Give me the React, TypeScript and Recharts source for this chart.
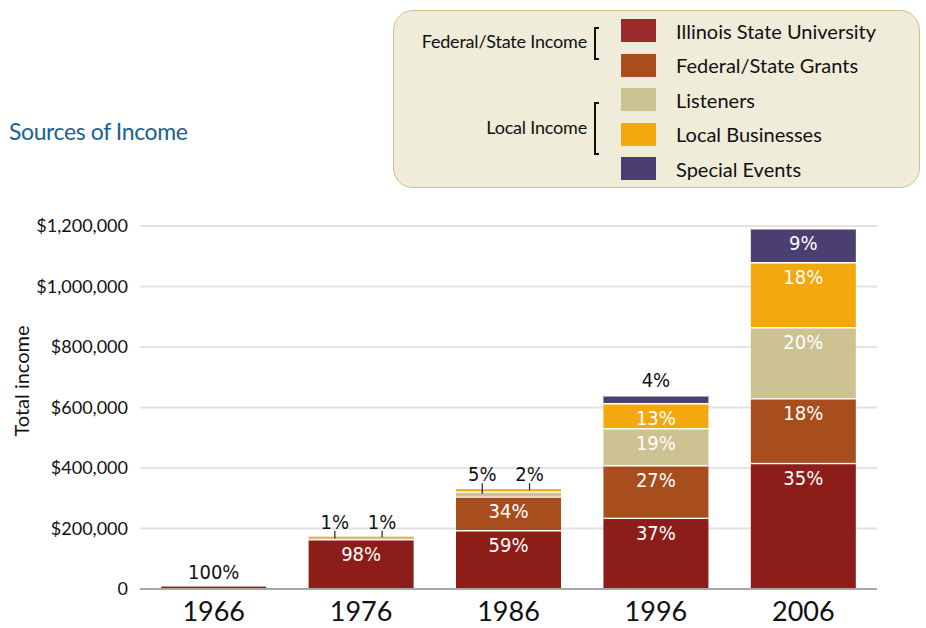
import React from 'react';
import { BarChart, Bar, XAxis, YAxis, CartesianGrid, LabelList } from 'recharts';

const years = ['1966', '1976', '1986', '1996', '2006'];
const isuValues = [8000, 165000, 195000, 236000, 417000];
const grantValues = [0, 0, 112000, 174000, 214000];
const listenerValues = [0, 4000, 16000, 122000, 235000];
const businessValues = [0, 4000, 7000, 83000, 215000];
const eventValues = [0, 0, 0, 26000, 112000];

const isuPct = ['100%', '98%', '59%', '37%', '35%'];
const grantPct = ['', '', '34%', '27%', '18%'];
const listenerPct = ['', '1%', '5%', '19%', '20%'];
const businessPct = ['', '1%', '2%', '13%', '18%'];
const eventPct = ['', '', '', '4%', '9%'];

const yTicks = [0, 200000, 400000, 600000, 800000, 1000000, 1200000];

const groups = ['Federal/State Income', 'Local Income'];

const series = [
  { key: 'isu', name: 'Illinois State University', color: '#8C1D18', legendColor: '#9C2B2B', values: isuValues, pct: isuPct, group: 0, outside: 'center' },
  { key: 'grants', name: 'Federal/State Grants', color: '#A84D1D', legendColor: '#A84D1D', values: grantValues, pct: grantPct, group: 0, outside: 'center' },
  { key: 'listeners', name: 'Listeners', color: '#CDC292', legendColor: '#CDC292', values: listenerValues, pct: listenerPct, group: 1, outside: 'left' },
  { key: 'business', name: 'Local Businesses', color: '#F4A80F', legendColor: '#F4A80F', values: businessValues, pct: businessPct, group: 1, outside: 'right' },
  { key: 'events', name: 'Special Events', color: '#4A3F70', legendColor: '#4A3F70', values: eventValues, pct: eventPct, group: 1, outside: 'center' },
];

const data = years.map((y, i) => {
  const row: any = { year: y };
  series.forEach((s) => { row[s.key] = s.values[i]; });
  return row;
});

const LABEL_FONT = "'Liberation Sans Narrow', 'DejaVu Sans Condensed', sans-serif";
const MAIN_FONT = "Lato, 'Open Sans', sans-serif";

const SegShape = (props: any) => {
  const { x, y, width, height, fill } = props;
  if (!height || height <= 0) return null;
  return (
    <g>
      <rect x={x} y={y} width={width} height={height} fill={fill} />
      {height > 4 && <line x1={x} x2={x + width} y1={y + 0.75} y2={y + 0.75} stroke="#ffffff" strokeWidth={1.5} />}
    </g>
  );
};

const makeLabel = (sIdx: number) => (props: any) => {
  const s = series[sIdx];
  const { index } = props;
  const x = Number(props.x), y = Number(props.y), width = Number(props.width), height = Number(props.height);
  const v = s.values[index];
  const txt = s.pct[index];
  if (!v || !txt) return null;
  if (height >= 12) {
    return (
      <text x={x + width / 2} y={y + 15} fill="#ffffff" textAnchor="middle" dominantBaseline="central" fontSize={20} fontFamily={LABEL_FONT}>
        {txt}
      </text>
    );
  }
  const ppu = height / v;
  let above = 0;
  for (let j = sIdx + 1; j < series.length; j++) above += series[j].values[index];
  const top = y - above * ppu;
  const ly = top - 15;
  if (s.outside === 'left' || s.outside === 'right') {
    const lx = x + width * (s.outside === 'left' ? 0.25 : 0.7);
    return (
      <g>
        <text x={lx} y={ly} fill="#111" textAnchor="middle" dominantBaseline="central" fontSize={20} fontFamily={LABEL_FONT}>{txt}</text>
        <line x1={lx} x2={lx} y1={ly + 9} y2={y + height / 2} stroke="#222" strokeWidth={1.2} />
      </g>
    );
  }
  return (
    <text x={x + width / 2} y={ly} fill="#111" textAnchor="middle" dominantBaseline="central" fontSize={20} fontFamily={LABEL_FONT}>{txt}</text>
  );
};

const fmt = (v: number) => (v === 0 ? '0' : '$' + v.toLocaleString('en-US'));

const YLabel = () => (
  <text transform="rotate(-90, 21, 381)" x={21} y={381} textAnchor="middle" dominantBaseline="central" fontSize={20} fill="#111" fontFamily={MAIN_FONT}>
    Total income
  </text>
);

const LegendBox = () => (
  <div style={{ position: 'absolute', left: 393, top: 10, width: 527, height: 178, background: '#F0ECDA', border: '1.5px solid #CEC18F', borderRadius: 20, boxSizing: 'border-box', fontFamily: MAIN_FONT }}>
    {series.map((s, i) => (
      <div key={s.key} style={{ position: 'absolute', left: 227, top: 8 + i * 34.5, height: 23, display: 'flex', alignItems: 'center' }}>
        <div style={{ width: 35, height: 23, background: s.legendColor }} />
        <div style={{ marginLeft: 20, fontSize: 20, color: '#111', whiteSpace: 'nowrap' }}>{s.name}</div>
      </div>
    ))}
    {groups.map((g, gi) => {
      const members = series.map((s, i) => ({ s, i })).filter((m) => m.s.group === gi);
      const first = members[0].i, last = members[members.length - 1].i;
      const top = gi === 0 ? 8 + first * 34.5 + 8 : 8 + first * 34.5 + 14;
      const bottom = gi === 0 ? 8 + (first + 1) * 34.5 + 6 : 8 + last * 34.5 - 2;
      return (
        <React.Fragment key={g}>
          <div style={{ position: 'absolute', right: 527 - 195, top: (top + bottom) / 2 - 13, fontSize: 18, color: '#111', whiteSpace: 'nowrap', letterSpacing: -0.2 }}>{g}</div>
          <div style={{ position: 'absolute', left: 200, top: top, width: 5, height: bottom - top, borderLeft: '2px solid #111', borderTop: '2px solid #111', borderBottom: '2px solid #111', boxSizing: 'border-box' }} />
        </React.Fragment>
      );
    })}
  </div>
);

export default function App() {
  return (
    <div style={{ position: 'absolute', left: 0, top: 0, width: 926, height: 628, background: '#ffffff' }}>
      <div style={{ position: 'absolute', left: 9, top: 117, fontSize: 23, color: '#17638F', fontFamily: MAIN_FONT, letterSpacing: -0.4 }}>Sources of Income</div>
      <LegendBox />
      <div style={{ position: 'absolute', left: 0, top: 0 }}>
        <BarChart width={926} height={628} data={data} margin={{ top: 226, right: 49, bottom: 0, left: 0 }} barCategoryGap="14.4%">
          <CartesianGrid vertical={false} stroke="#E4E4E4" strokeWidth={2} />
          <XAxis dataKey="year" height={39} tickLine={false} tickSize={0} tickMargin={13} axisLine={{ stroke: '#A8A8A8', strokeWidth: 2 }} tick={{ fontSize: 27, fill: '#111', fontFamily: MAIN_FONT }} />
          <YAxis width={140} domain={[0, 1200000]} ticks={yTicks} interval={0} tickFormatter={fmt} axisLine={false} tickLine={false} tickSize={0} tickMargin={12} tick={{ fontSize: 18, fill: '#111', fontFamily: MAIN_FONT }} label={<YLabel />} />
          {series.map((s, i) => (
            <Bar key={s.key} dataKey={s.key} name={s.name} stackId="a" fill={s.color} shape={<SegShape />} isAnimationActive={false}>
              <LabelList dataKey={s.key} content={makeLabel(i)} />
            </Bar>
          ))}
        </BarChart>
      </div>
    </div>
  );
}
